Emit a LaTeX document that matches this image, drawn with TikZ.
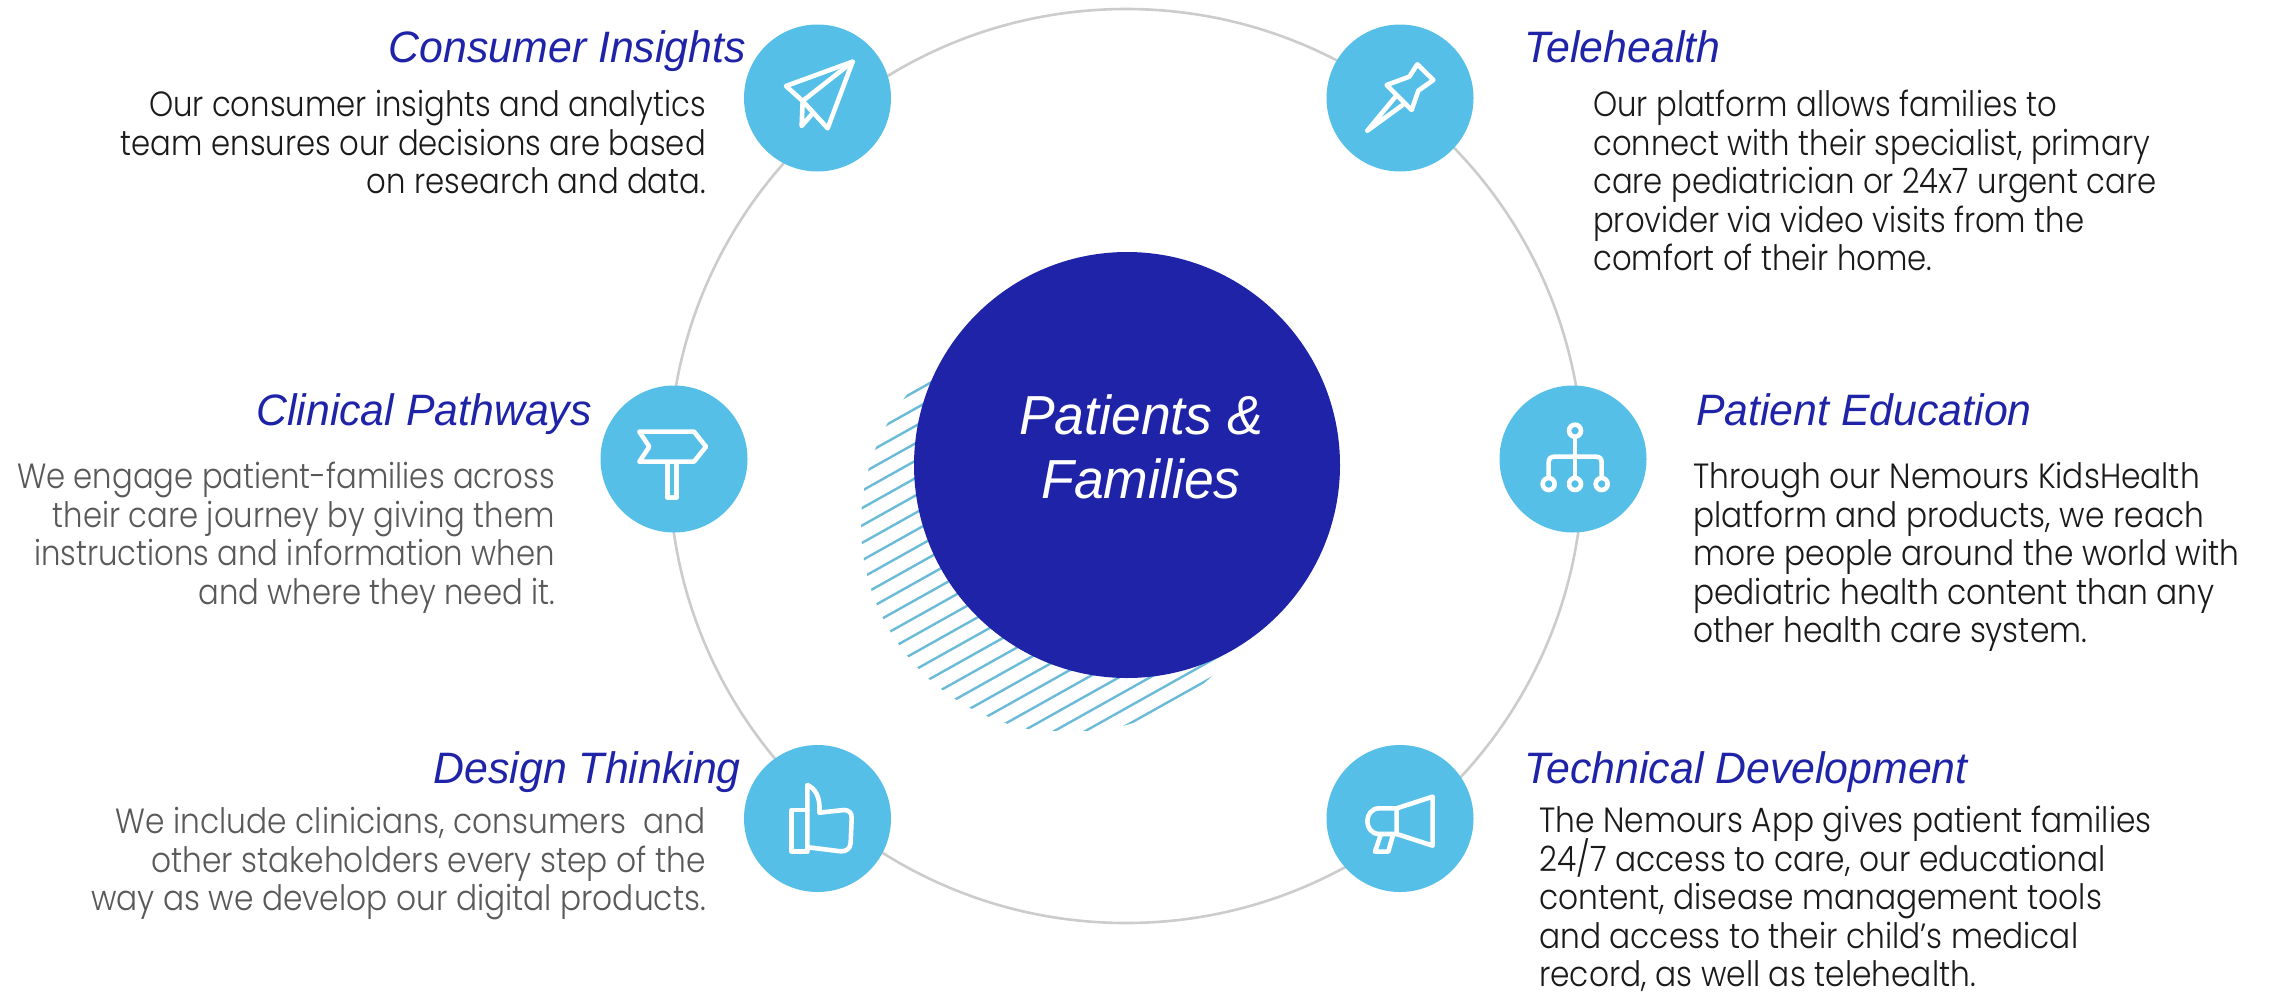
\documentclass[tikz,border=0pt]{standalone}
\usepackage{fontspec}
\setmainfont[FakeStretch=0.877]{Poppins Light}
\newfontfamily\widef[FakeStretch=0.893]{Poppins Light}
\newfontfamily\headf[FakeStretch=0.973]{Liberation Sans}
\newfontfamily\coref[FakeStretch=0.973]{Liberation Sans}
\lineskiplimit=-30pt
\definecolor{navy}{HTML}{1F23A8}
\definecolor{sky}{HTML}{55BFE8}
\definecolor{ringc}{HTML}{CCCCCC}
\definecolor{hatchc}{HTML}{6BBBD8}
\definecolor{bodyd}{HTML}{1A1A1A}
\definecolor{bodyg}{HTML}{595959}
\tikzset{
  ico/.style={draw=white,line width=4.6pt,line join=round,line cap=round},
  disc/.style={circle,fill=sky,minimum size=147pt,inner sep=0pt},
  head/.style={inner sep=0pt,text=navy,font=\headf\itshape\fontsize{44}{48}\selectfont},
  para/.style={inner sep=0pt,font=\fontsize{35}{38.5}\selectfont},
  parawide/.style={inner sep=0pt,font=\widef\fontsize{35}{38.5}\selectfont},
  paral/.style={align=right,anchor=north east},
  parar/.style={align=left,anchor=north west},
}
\begin{document}
\begin{tikzpicture}[x=1pt,y=-1pt]
\useasboundingbox (0,0) rectangle (2272,991);
\fill[white] (0,0) rectangle (2272,991);
% hatched disc
\begin{scope}
\clip (1069,525) circle (208pt);
\clip (800,300) rectangle (1400,730);
\foreach \k in {-30,...,40}
  \draw[hatchc,line width=2.4pt] (800,526+\k*17.4+34.2) -- (1400,526+\k*17.4-301.8);
\end{scope}
% ring
\draw[ringc,line width=2.6pt] (1126,466) circle (457pt);
\node[circle,fill=navy,minimum size=426pt,inner sep=0pt] (core) at (1127,465) {};
\node[inner sep=0pt,align=center,text=white,font=\coref\itshape\fontsize{55}{64}\selectfont] (corelabel) at (1141,447) {Patients \&\\Families};
% discs
\node[disc] (d1) at (817.5,98) {};
\node[disc] (d2) at (1400,98) {};
\node[disc] (d3) at (674,459) {};
\node[disc] (d4) at (1573,459) {};
\node[disc] (d5) at (817.5,818.5) {};
\node[disc] (d6) at (1400,818.5) {};
% plane
\begin{scope}[shift={(720,20)},x=0.3333pt,y=-0.3333pt]
\draw[ico] (398,125) -- (198,198) -- (248,243) -- (323,325) -- cycle;
\draw[ico] (398,125) -- (248,243) -- (245,318) -- (278,280);
\end{scope}
% pin
\begin{scope}[shift={(1310,20)},x=0.3333pt,y=-0.3333pt]
\draw[ico] (230,195) -- (298,170) -- (322,133) -- (370,180) -- (325,212) -- (305,270) -- cycle;
\draw[ico] (258,228) -- (172,332) -- (282,252);
\end{scope}
% sign
\begin{scope}[shift={(580,370)},x=0.3333pt,y=-0.3333pt]
\draw[ico] (178,185) -- (342,185) -- (378,230) -- (342,275) -- (178,275) -- (208,230) -- cycle;
\draw[ico] (262,278) -- (262,382) -- (290,382) -- (290,278);
\end{scope}
% org
\begin{scope}[shift={(1490,370)},x=0.3333pt,y=-0.3333pt]
\draw[ico] (255,182) circle (6pt);
\draw[ico] (176,342) circle (6pt);
\draw[ico] (255,342) circle (6pt);
\draw[ico] (335,342) circle (6pt);
\draw[ico] (255,205) -- (255,320);
\draw[ico] (176,320) -- (176,278) .. controls (176,265) and (182,260) .. (195,260) -- (316,260) .. controls (329,260) and (335,265) .. (335,278) -- (335,320);
\end{scope}
% thumb
\begin{scope}[shift={(720,740)},x=0.3333pt,y=-0.3333pt]
\draw[ico] (262,210) -- (215,210) -- (215,335) -- (262,335);
\draw[ico] (262,335) -- (262,135) .. controls (285,145) and (302,170) .. (298,218) -- (372,210) .. controls (388,210) and (396,220) .. (395,235) -- (392,310) .. controls (390,325) and (380,335) .. (362,334) -- (265,322);
\end{scope}
% megaphone
\begin{scope}[shift={(1310,740)},x=0.3333pt,y=-0.3333pt]
\draw[ico] (260,205) -- (368,170) -- (368,317) -- (260,282) -- cycle;
\draw[ico] (260,205) -- (208,205) .. controls (160,205) and (160,282) .. (208,282) -- (260,282);
\draw[ico] (212,285) -- (195,335) -- (235,335) -- (248,288);
\end{scope}
% headings
\node[head,anchor=base east] (t1) at (746,62) {Consumer Insights};
\node[head,anchor=base west] (t2) at (1524,62) {Telehealth};
\node[head,anchor=base east] (t3) at (592,425) {Clinical Pathways};
\node[head,anchor=base west] (t4) at (1696,425) {Patient Education};
\node[head,anchor=base east] (t5) at (741,783) {Design Thinking};
\node[head,anchor=base west] (t6) at (1524,783) {Technical Development};
% paragraphs
\node[para,paral,text=bodyd] (p1) at (706,90) {Our consumer insights and analytics\\team ensures our decisions are based\\on research and data.};
\node[para,parar,text=bodyd] (p2) at (1593,90) {Our platform allows families to\\connect with their specialist, primary\\care pediatrician or 24x7 urgent care\\provider via video visits from the\\comfort of their home.};
\node[para,paral,text=bodyg] (p3) at (555,462) {We engage patient-families across\\their care journey by giving them\\instructions and information when\\and where they need it.};
\node[parawide,parar,text=bodyd] (p4) at (1693,462) {Through our Nemours KidsHealth\\platform and products, we reach\\more people around the world with\\pediatric health content than any\\other health care system.};
\node[parawide,paral,text=bodyg] (p5) at (706,807) {We include clinicians, consumers~ and\\other stakeholders every step of the\\way as we develop our digital products.};
\node[parawide,parar,text=bodyd] (p6) at (1539,806) {The Nemours App gives patient families\\24/7 access to care, our educational\\content, disease management tools\\and access to their child’s medical\\record, as well as telehealth.};
\end{tikzpicture}
\end{document}
